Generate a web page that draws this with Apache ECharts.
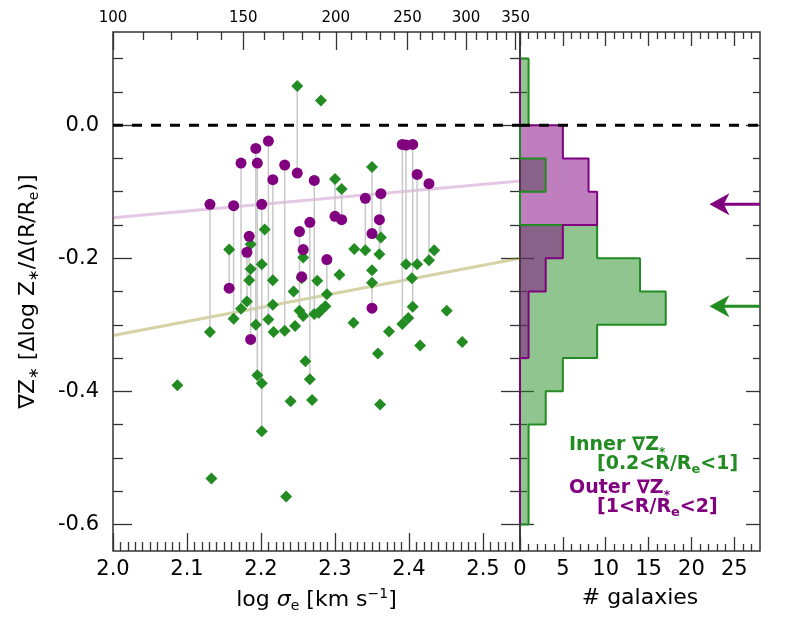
<!DOCTYPE html>
<html>
<head>
<meta charset="utf-8">
<script src="https://cdn.jsdelivr.net/npm/echarts@6/dist/echarts.min.js"></script>
<style>
  html, body { margin: 0; padding: 0; background: #fff; }
  #chart { width: 800px; height: 640px; }
</style>
</head>
<body>
<div id="chart"></div>
<script>
// one entry per galaxy: log sigma_e, inner gradient, outer gradient (null = no outer value)
const logSigma = [
  2.131, 2.163, 2.173, 2.193, 2.195, 2.210, 2.216, 2.201, 2.184, 2.181,
  2.157, 2.232, 2.249, 2.272, 2.252, 2.266, 2.257, 2.255, 2.289, 2.300,
  2.309, 2.341, 2.362, 2.360, 2.350, 2.350, 2.391, 2.396, 2.405, 2.411,
  2.427, 2.186,
  2.281, 2.205, 2.186, 2.201, 2.216, 2.244, 2.276, 2.306, 2.326, 2.350,
  2.404, 2.434, 2.451, 2.257, 2.278, 2.282, 2.287, 2.325, 2.217, 2.246,
  2.373, 2.399, 2.415, 2.472, 2.358, 2.260, 2.201, 2.087, 2.240, 2.269,
  2.361, 2.133, 2.234
];
const gradInner = [
  -0.311, -0.291, -0.276, -0.300, -0.376, -0.292, -0.233, -0.460, -0.233, -0.265,
  -0.187, -0.309, 0.059, -0.284, -0.279, -0.382, -0.199, -0.230, -0.254, -0.081,
  -0.096, -0.188, -0.169, -0.194, -0.063, -0.237, -0.299, -0.209, -0.273, -0.209,
  -0.203, -0.216,
  0.037, -0.157, -0.179, -0.209, -0.270, -0.250, -0.234, -0.225, -0.186, -0.218,
  -0.230, -0.188, -0.279, -0.287, -0.282, -0.277, -0.272, -0.297, -0.311, -0.302,
  -0.310, -0.290, -0.331, -0.326, -0.343, -0.355, -0.388, -0.391, -0.415, -0.413,
  -0.420, -0.531, -0.558
];
const gradOuter = [
  -0.119, -0.121, -0.057, -0.035, -0.057, -0.024, -0.082, -0.119, -0.167, -0.191,
  -0.245, -0.060, -0.072, -0.083, -0.160, -0.146, -0.187, -0.228, -0.202, -0.137,
  -0.142, -0.110, -0.103, -0.142, -0.163, -0.275, -0.029, -0.030, -0.029, -0.074,
  -0.088, -0.322,
  null, null, null, null, null, null, null, null, null, null,
  null, null, null, null, null, null, null, null, null, null,
  null, null, null, null, null, null, null, null, null, null,
  null, null, null
];

// linear fits (end points)
const fitX = [2.0, 2.55];
const fitInnerY = [-0.316, -0.200];
const fitOuterY = [-0.139, -0.084];

// histograms (bins from top to bottom)
const binEdges = [0.10, 0.05, 0.00, -0.05, -0.10, -0.15, -0.20, -0.25, -0.30, -0.35, -0.40, -0.45, -0.50, -0.55, -0.60];
const innerCounts = [1, 1, 0, 3, 0, 9, 14, 17, 9, 5, 3, 1, 1, 1];
const outerCounts = [0, 0, 5, 8, 9, 5, 3, 1, 1, 0, 0, 0, 0, 0];
const meanInner = -0.272;
const meanOuter = -0.119;
const arrowTip = 22.1;

// tick labels
const xLabels = [2.0, 2.1, 2.2, 2.3, 2.4, 2.5];
const sigmaLabels = [100, 150, 200, 250, 300, 350];
const sigmaMinor = [110, 120, 130, 140, 160, 170, 180, 190, 210, 220, 230, 240, 260, 270, 280, 290, 310, 320, 330, 340];
const yLabels = [-0.6, -0.4, -0.2, 0.0];
const yMinor = [-0.55, -0.5, -0.45, -0.35, -0.3, -0.25, -0.15, -0.1, -0.05, 0.05, 0.1];
const countLabels = [0, 5, 10, 15, 20, 25];

const GREEN = '#228B22';
const PURPLE = '#800080';
const FONT = 'DejaVu Sans';

const xMinor = [];
for (let i = 1; i < 55; i++) if (i % 10) xMinor.push(Math.round((2 + i / 100) * 1000) / 1000);
const countMinor = [];
for (let i = 1; i < 28; i++) if (i % 5) countMinor.push(i);

const YMIN = -0.64, YMAX = 0.14;
const tickStyle = { color: '#333', width: 1.3 };

function axis(grid, pos, min, max, ticks, len, label, extra) {
  const a = {
    type: 'value', gridIndex: grid, position: pos, min: min, max: max,
    axisLine: { show: false, onZero: false }, splitLine: { show: false },
    axisTick: { show: true, inside: true, length: len, customValues: ticks, lineStyle: tickStyle },
    axisLabel: label || { show: false }
  };
  return Object.assign(a, extra || {});
}
function lab(values, fmt, size, margin) {
  return { customValues: values, formatter: fmt, fontSize: size, margin: margin, color: '#000', fontFamily: FONT };
}
const f1 = v => v.toFixed(1);

function stepOutline(counts) {
  const pts = [[0, binEdges[0]]];
  counts.forEach((c, i) => { pts.push([c, binEdges[i]], [c, binEdges[i + 1]]); });
  pts.push([0, binEdges[binEdges.length - 1]]);
  return pts;
}
const innerOutline = stepOutline(innerCounts);
const outerOutline = stepOutline(outerCounts);

function histFill(pts, color) {
  return {
    type: 'custom', xAxisIndex: 4, yAxisIndex: 4, data: pts, z: 2, silent: true,
    renderItem: (params, api) => {
      if (params.dataIndex !== 0) return;
      return { type: 'polygon', shape: { points: pts.map(p => api.coord(p)) }, style: { fill: color } };
    }
  };
}
function outline(pts, color) {
  return {
    type: 'line', xAxisIndex: 4, yAxisIndex: 4, data: pts, showSymbol: false, z: 3, silent: true,
    lineStyle: { color: color, width: 2 }
  };
}
function zeroLine(xi, x0, x1) {
  return {
    type: 'line', xAxisIndex: xi, yAxisIndex: xi, data: [[x0, 0], [x1, 0]], showSymbol: false, z: 6, silent: true,
    lineStyle: { color: '#000', width: 3, type: [10, 9] }
  };
}

const innerPts = logSigma.map((x, i) => [x, gradInner[i]]);
const outerPts = [];
const pairs = [];
logSigma.forEach((x, i) => {
  if (gradOuter[i] !== null) { outerPts.push([x, gradOuter[i]]); pairs.push([x, gradInner[i], gradOuter[i]]); }
});

const subRich = (size, color, bold) => ({ fontSize: size, fontFamily: FONT, fontWeight: bold ? 'bold' : 'normal', color: color, fill: color, verticalAlign: 'bottom', lineHeight: size });

const chart = echarts.init(document.getElementById('chart'));
chart.setOption({
  animation: false,
  backgroundColor: '#fff',
  grid: [
    { left: 113, top: 32, width: 407, height: 519, show: true, borderColor: '#333', borderWidth: 1.5 },
    { left: 520, top: 32, width: 240, height: 519, show: true, borderColor: '#333', borderWidth: 1.5 }
  ],
  xAxis: [
    axis(0, 'bottom', 2.0, 2.55, xLabels, 18, lab(xLabels, f1, 21, 8), {
      name: 'log {it|σ}{s|e} [km s{p|−1}]', nameLocation: 'middle', nameGap: 36,
      nameTextStyle: { fontSize: 22, fontFamily: FONT, color: '#000', lineHeight: 26,
        rich: { it: { fontSize: 22, fontFamily: FONT, fontStyle: 'italic', color: '#000' },
                s: subRich(14, '#000'),
                p: { fontSize: 14, fontFamily: FONT, color: '#000', verticalAlign: 'top', lineHeight: 14 } } }
    }),
    axis(0, 'bottom', 2.0, 2.55, xMinor, 9),
    axis(0, 'top', 2.0, 2.55, sigmaLabels.map(Math.log10), 18,
      lab(sigmaLabels.map(Math.log10), v => String(Math.round(Math.pow(10, v))), 15, 6)),
    axis(0, 'top', 2.0, 2.55, sigmaMinor.map(Math.log10), 8),
    axis(1, 'bottom', 0, 28, countLabels, 14, lab(countLabels, v => String(v), 21, 8), {
      name: '# galaxies', nameLocation: 'middle', nameGap: 36,
      nameTextStyle: { fontSize: 22, fontFamily: FONT, color: '#000' }
    }),
    axis(1, 'bottom', 0, 28, countMinor, 7),
    axis(1, 'top', 0, 28, countLabels, 14),
    axis(1, 'top', 0, 28, countMinor, 7)
  ],
  yAxis: [
    axis(0, 'left', YMIN, YMAX, yLabels, 19, lab(yLabels, f1, 21, 14), {
      name: '∇Z{s|∗} [Δlog Z{s|∗}/Δ(R/R{s|e})]', nameLocation: 'middle', nameGap: 72,
      nameTextStyle: { fontSize: 22, fontFamily: FONT, color: '#000', lineHeight: 26, rich: { s: subRich(14, '#000') } }
    }),
    axis(0, 'left', YMIN, YMAX, yMinor, 10),
    axis(0, 'right', YMIN, YMAX, yLabels, 19),
    axis(0, 'right', YMIN, YMAX, yMinor, 10),
    axis(1, 'left', YMIN, YMAX, yLabels, 14),
    axis(1, 'left', YMIN, YMAX, yMinor, 7),
    axis(1, 'right', YMIN, YMAX, yLabels, 14),
    axis(1, 'right', YMIN, YMAX, yMinor, 7)
  ],
  series: [
    {
      type: 'line', xAxisIndex: 0, yAxisIndex: 0, data: fitX.map((x, i) => [x, fitOuterY[i]]),
      showSymbol: false, z: 1, silent: true, lineStyle: { color: 'rgba(128,0,128,0.22)', width: 3 }
    },
    {
      type: 'line', xAxisIndex: 0, yAxisIndex: 0, data: fitX.map((x, i) => [x, fitInnerY[i]]),
      showSymbol: false, z: 1, silent: true, lineStyle: { color: 'rgba(128,128,0,0.35)', width: 3 }
    },
    {
      type: 'custom', xAxisIndex: 0, yAxisIndex: 0, data: pairs, z: 2, silent: true,
      encode: { x: 0, y: [1, 2] },
      renderItem: (params, api) => {
        const a = api.coord([api.value(0), api.value(1)]);
        const b = api.coord([api.value(0), api.value(2)]);
        return { type: 'line', shape: { x1: a[0], y1: a[1], x2: b[0], y2: b[1] }, style: { stroke: '#c8c8c8', lineWidth: 1.5 } };
      }
    },
    {
      type: 'scatter', xAxisIndex: 0, yAxisIndex: 0, data: innerPts, symbol: 'diamond', symbolSize: 12,
      z: 3, itemStyle: { color: GREEN, opacity: 1 }
    },
    {
      type: 'scatter', xAxisIndex: 0, yAxisIndex: 0, data: outerPts, symbol: 'circle', symbolSize: 11,
      z: 4, itemStyle: { color: PURPLE, opacity: 1 }
    },
    zeroLine(0, 2.0, 2.55),
    histFill(innerOutline, 'rgba(34,139,34,0.5)'),
    histFill(outerOutline, 'rgba(128,0,128,0.5)'),
    outline(innerOutline, GREEN),
    outline(outerOutline, PURPLE),
    zeroLine(4, 0, 28),
    {
      type: 'custom', xAxisIndex: 4, yAxisIndex: 4, z: 5, silent: true,
      data: [[28, meanOuter, arrowTip, 0], [28, meanInner, arrowTip, 1]],
      renderItem: (params, api) => {
        const color = api.value(3) ? GREEN : PURPLE;
        const tail = api.coord([api.value(0), api.value(1)]);
        const tip = api.coord([api.value(2), api.value(1)]);
        const L = 20, W = 22;
        return {
          type: 'group', children: [
            { type: 'line', shape: { x1: tail[0], y1: tail[1], x2: tip[0] + L * 0.6, y2: tip[1] }, style: { stroke: color, lineWidth: 3 } },
            { type: 'polygon', shape: { points: [[tip[0], tip[1]], [tip[0] + L, tip[1] - W / 2], [tip[0] + L * 0.72, tip[1]], [tip[0] + L, tip[1] + W / 2]] }, style: { fill: color } }
          ]
        };
      }
    }
  ],
  graphic: [
    { type: 'text', x: 569, y: 445, style: { text: 'Inner ∇Z{s|*}', fill: GREEN, fontSize: 19, fontWeight: 'bold', fontFamily: FONT, verticalAlign: 'middle', lineHeight: 28, rich: { s: subRich(12, GREEN, true) } } },
    { type: 'text', x: 597, y: 464, style: { text: '[0.2<R/R{s|e}<1]', fill: GREEN, fontSize: 19, fontWeight: 'bold', fontFamily: FONT, verticalAlign: 'middle', lineHeight: 24, rich: { s: subRich(13, GREEN, true) } } },
    { type: 'text', x: 569, y: 488, style: { text: 'Outer ∇Z{s|*}', fill: PURPLE, fontSize: 19, fontWeight: 'bold', fontFamily: FONT, verticalAlign: 'middle', lineHeight: 28, rich: { s: subRich(12, PURPLE, true) } } },
    { type: 'text', x: 597, y: 507, style: { text: '[1<R/R{s|e}<2]', fill: PURPLE, fontSize: 19, fontWeight: 'bold', fontFamily: FONT, verticalAlign: 'middle', lineHeight: 24, rich: { s: subRich(13, PURPLE, true) } } }
  ]
});
</script>
</body>
</html>
